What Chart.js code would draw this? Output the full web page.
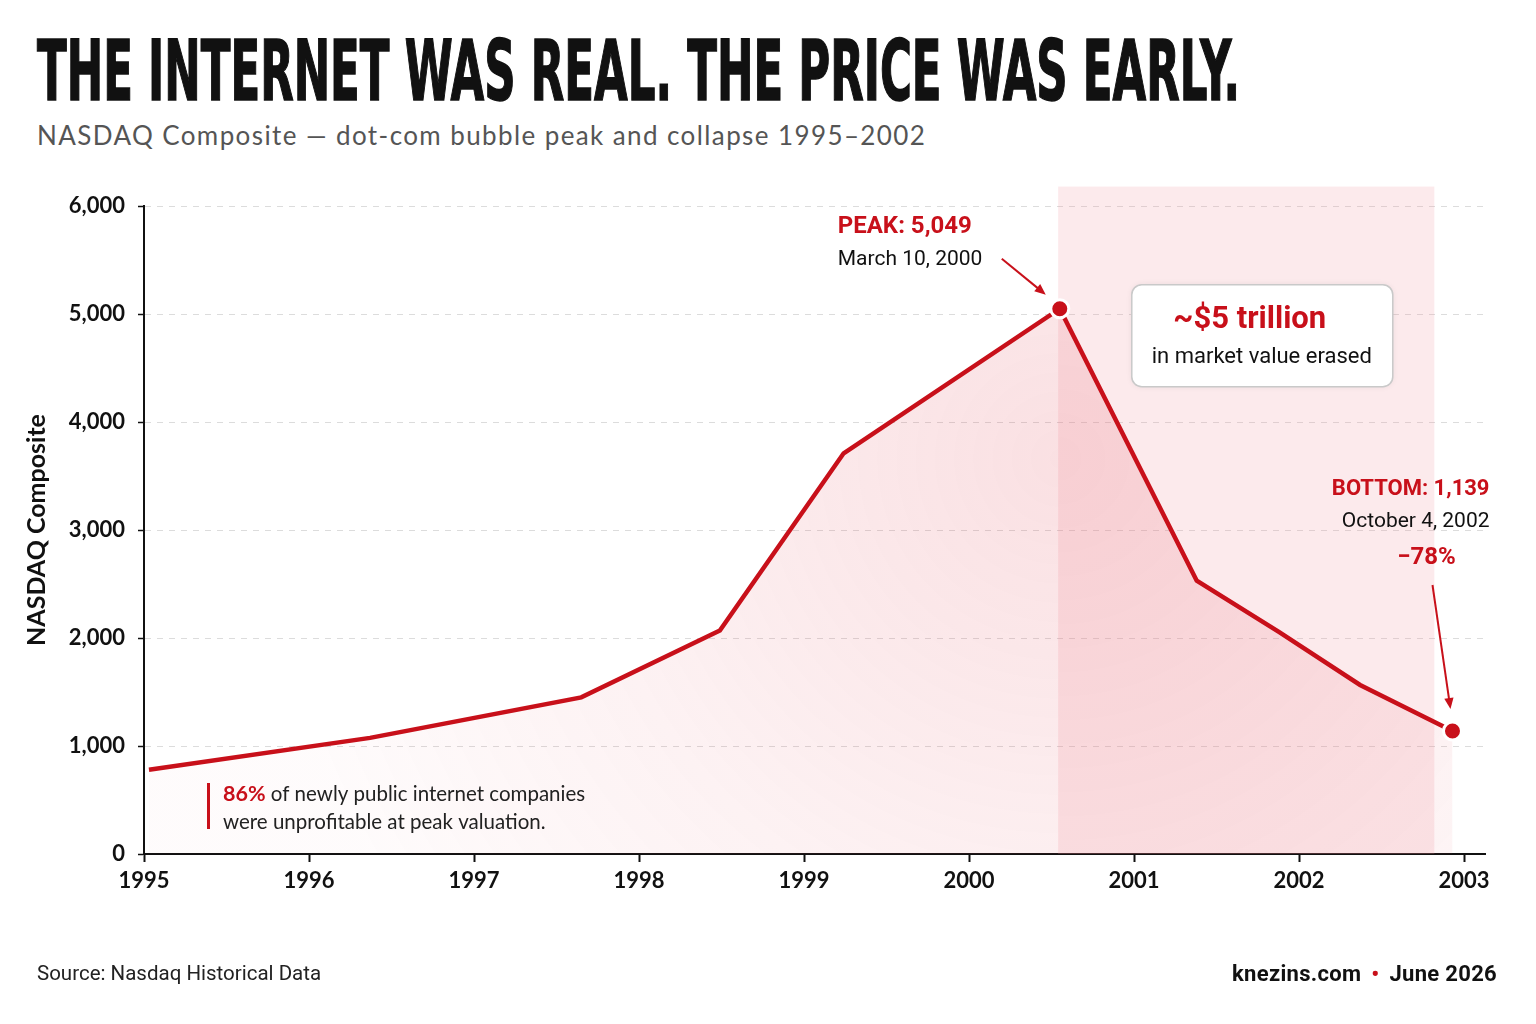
<!DOCTYPE html>
<html lang="en">
<head>
  <meta charset="UTF-8">
  <title>NASDAQ dot-com bubble</title>
  <style>
    body { margin: 0; background: #fff; width: 1536px; height: 1024px; overflow: hidden; position: relative; font-family: Lato, 'Open Sans', sans-serif; }
    #chart { position: absolute; left: 0; top: 0; }
    .title { position: absolute; left: 37px; top: 30px; font-family: 'Liberation Sans Narrow', 'DejaVu Sans Condensed', sans-serif; font-weight: bold; font-size: 83px; line-height: 1; color: #111; white-space: nowrap; transform-origin: left top; -webkit-text-stroke: 1.5px #111; }
    .subtitle { position: absolute; left: 37px; top: 122px; font-size: 26px; line-height: 1; color: #555; white-space: nowrap; letter-spacing: 1.4px; }
    .footer { position: absolute; top: 963px; font-family: Roboto, sans-serif; font-size: 20.5px; line-height: 1; color: #222; white-space: nowrap; }
    .footer.left { left: 37px; }
    .footer.right { right: 39px; font-size: 22px; font-weight: bold; color: #111; letter-spacing: 0.3px; }
    .footer .dot { color: #c8101a; margin: 0 10px; }
  </style>
</head>
<body>
  <div class="title" id="title">THE INTERNET WAS REAL. THE PRICE WAS EARLY.</div>
  <div class="subtitle">NASDAQ Composite — dot-com bubble peak and collapse 1995–2002</div>
  <canvas id="chart" width="1536" height="1024"></canvas>
  <div class="footer left">Source: Nasdaq Historical Data</div>
  <div class="footer right">knezins.com<span class="dot">•</span>June 2026</div>

  <script src="https://cdn.jsdelivr.net/npm/chart.js@4.4.1/dist/chart.umd.min.js"></script>
  <script>
    // NASDAQ Composite (x = fractional year)
    const years = [1995.03, 1996.37, 1997.65, 1998.49, 1999.24, 2000.55, 2001.38, 2001.88, 2002.37, 2002.93];
    const values = [780, 1075, 1450, 2070, 3710, 5049, 2530, 2055, 1565, 1139];
    const yearTicks = [1995, 1996, 1997, 1998, 1999, 2000, 2001, 2002, 2003];
    const valueTicks = [0, 1000, 2000, 3000, 4000, 5000, 6000];
    const crashBand = [2000.54, 2002.82];
    const peakIdx = 5;
    const bottomIdx = 9;

    const RED = '#c8101a';

    // squeeze the headline to the reference width
    const $title = document.querySelector('#title');
    $title.style.transform = `scaleX(${1203 / $title.offsetWidth})`;

    function arrow(ctx, x1, y1, x2, y2) {
      const a = Math.atan2(y2 - y1, x2 - x1);
      ctx.beginPath();
      ctx.moveTo(x1, y1);
      ctx.lineTo(x2 - 8 * Math.cos(a), y2 - 8 * Math.sin(a));
      ctx.stroke();
      ctx.beginPath();
      ctx.moveTo(x2, y2);
      ctx.lineTo(x2 - 12 * Math.cos(a - 0.4), y2 - 12 * Math.sin(a - 0.4));
      ctx.lineTo(x2 - 12 * Math.cos(a + 0.4), y2 - 12 * Math.sin(a + 0.4));
      ctx.closePath();
      ctx.fill();
    }

    const overlay = {
      id: 'overlay',
      beforeDatasetsDraw(chart) {
        const { ctx, chartArea, scales: { x, y } } = chart;
        const x0 = x.getPixelForValue(crashBand[0]);
        const x1 = x.getPixelForValue(crashBand[1]);
        const top = y.getPixelForValue(6180);
        ctx.save();
        ctx.fillStyle = 'rgba(240,150,160,0.2)';
        ctx.fillRect(x0, top, x1 - x0, chartArea.bottom - top);
        ctx.restore();
      },
      afterDatasetsDraw(chart) {
        const { ctx, chartArea, scales: { x, y } } = chart;
        const px = x.getPixelForValue(years[peakIdx]);
        const py = y.getPixelForValue(values[peakIdx]);
        const bx = x.getPixelForValue(years[bottomIdx]);
        const by = y.getPixelForValue(values[bottomIdx]);
        ctx.save();
        ctx.textBaseline = 'middle';

        // peak
        ctx.fillStyle = RED;
        ctx.font = 'bold 24px Roboto';
        ctx.textAlign = 'left';
        ctx.fillText('PEAK: 5,049', px - 222, py - 82);
        ctx.fillStyle = '#111';
        ctx.font = '21px Roboto';
        ctx.fillText('March 10, 2000', px - 222, py - 49);
        ctx.strokeStyle = RED;
        ctx.fillStyle = RED;
        ctx.lineWidth = 2;
        arrow(ctx, px - 58, py - 50, px - 14, py - 14);

        // value erased box
        const bw = 261, bh = 102, bl = px + 72, bt = py - 24;
        ctx.beginPath();
        ctx.roundRect(bl, bt, bw, bh, 10);
        ctx.fillStyle = '#fff';
        ctx.shadowColor = 'rgba(0,0,0,0.08)';
        ctx.shadowBlur = 6;
        ctx.fill();
        ctx.shadowColor = 'transparent';
        ctx.strokeStyle = '#c9c9c9';
        ctx.lineWidth = 1.5;
        ctx.stroke();
        ctx.textAlign = 'center';
        ctx.fillStyle = RED;
        ctx.font = 'bold 31px Roboto';
        ctx.fillText('~$5 trillion', px + 190, py + 12);
        ctx.fillStyle = '#111';
        ctx.font = '22px Roboto';
        ctx.fillText('in market value erased', px + 202, py + 49);

        // bottom
        ctx.textAlign = 'right';
        ctx.fillStyle = RED;
        ctx.font = 'bold 22px Roboto';
        ctx.fillText('BOTTOM: 1,139', bx + 37, by - 241);
        ctx.fillStyle = '#111';
        ctx.font = '21px Roboto';
        ctx.fillText('October 4, 2002', bx + 37, by - 209);
        ctx.textAlign = 'center';
        ctx.fillStyle = RED;
        ctx.font = 'bold 24px Roboto';
        ctx.fillText('\u221278%', bx - 26, by - 173);
        ctx.strokeStyle = RED;
        ctx.lineWidth = 2;
        arrow(ctx, bx - 20, by - 146, bx - 2, by - 22);

        // unprofitable callout
        const cl = chartArea.left + 63, cb = chartArea.bottom;
        ctx.fillStyle = RED;
        ctx.fillRect(cl, cb - 71, 3, 46);
        ctx.textAlign = 'left';
        ctx.font = 'bold 21.5px Lato';
        ctx.fillText('86%', cl + 16, cb - 60);
        const w = ctx.measureText('86% ').width;
        ctx.fillStyle = '#222';
        ctx.font = '20.5px Lato';
        ctx.fillText('of newly public internet companies', cl + 16 + w, cb - 60);
        ctx.fillText('were unprofitable at peak valuation.', cl + 16, cb - 32);
        ctx.restore();
      }
    };

    new Chart(document.querySelector('#chart'), {
      type: 'line',
      data: {
        datasets: [{
          data: years.map((yr, i) => ({ x: yr, y: values[i] })),
          borderColor: RED,
          borderWidth: 4.5,
          tension: 0,
          fill: 'origin',
          backgroundColor(c) {
            const { chart } = c;
            const { ctx, chartArea, scales } = chart;
            if (!chartArea) return 'rgba(0,0,0,0)';
            const cx = scales.x.getPixelForValue(years[peakIdx]);
            const cy = scales.y.getPixelForValue(values[peakIdx]) + 150;
            const g = ctx.createRadialGradient(cx, cy, 0, cx, cy, 800);
            g.addColorStop(0, 'rgba(225,70,85,0.17)');
            g.addColorStop(0.6, 'rgba(225,70,85,0.07)');
            g.addColorStop(1, 'rgba(225,70,85,0.02)');
            return g;
          },
          pointRadius: (c) => (c.dataIndex === peakIdx || c.dataIndex === bottomIdx) ? 9 : 0,
          pointBackgroundColor: RED,
          pointBorderColor: '#fff',
          pointBorderWidth: 3,
          clip: false
        }]
      },
      options: {
        responsive: false,
        animation: false,
        layout: { padding: { top: 206, right: 51, bottom: 110, left: 0 } },
        plugins: { legend: { display: false }, tooltip: { enabled: false } },
        scales: {
          x: {
            type: 'linear',
            min: 1995,
            max: 2003.127,
            afterBuildTicks: (s) => { s.ticks = yearTicks.map(v => ({ value: v })); },
            afterFit: (s) => { s.height = 60; },
            border: { display: true, color: '#111', width: 2 },
            grid: { drawOnChartArea: false, drawTicks: true, tickLength: 8, tickColor: '#111', tickWidth: 2 },
            ticks: { color: '#111', padding: 6, font: { family: 'Lato', size: 22, weight: 'bold' }, callback: (v) => String(v), maxRotation: 0, autoSkip: false }
          },
          y: {
            min: 0,
            max: 6000,
            afterBuildTicks: (s) => { s.ticks = valueTicks.map(v => ({ value: v })); },
            afterFit: (s) => { s.width = 144; },
            border: { display: true, color: '#111', width: 2, dash: [6, 6] },
            grid: { color: '#dcdcdc', lineWidth: 1, drawTicks: true, tickLength: 6, tickColor: '#111', tickWidth: 1.5 },
            ticks: { color: '#111', padding: 13, font: { family: 'Lato', size: 22, weight: 'bold' }, callback: (v) => v.toLocaleString('en-US') },
            title: { display: true, text: 'NASDAQ Composite', color: '#111', font: { family: 'Lato', size: 25, weight: 'bold' }, padding: { top: 22, bottom: 0 } }
          }
        }
      },
      plugins: [overlay]
    });
  </script>
</body>
</html>
